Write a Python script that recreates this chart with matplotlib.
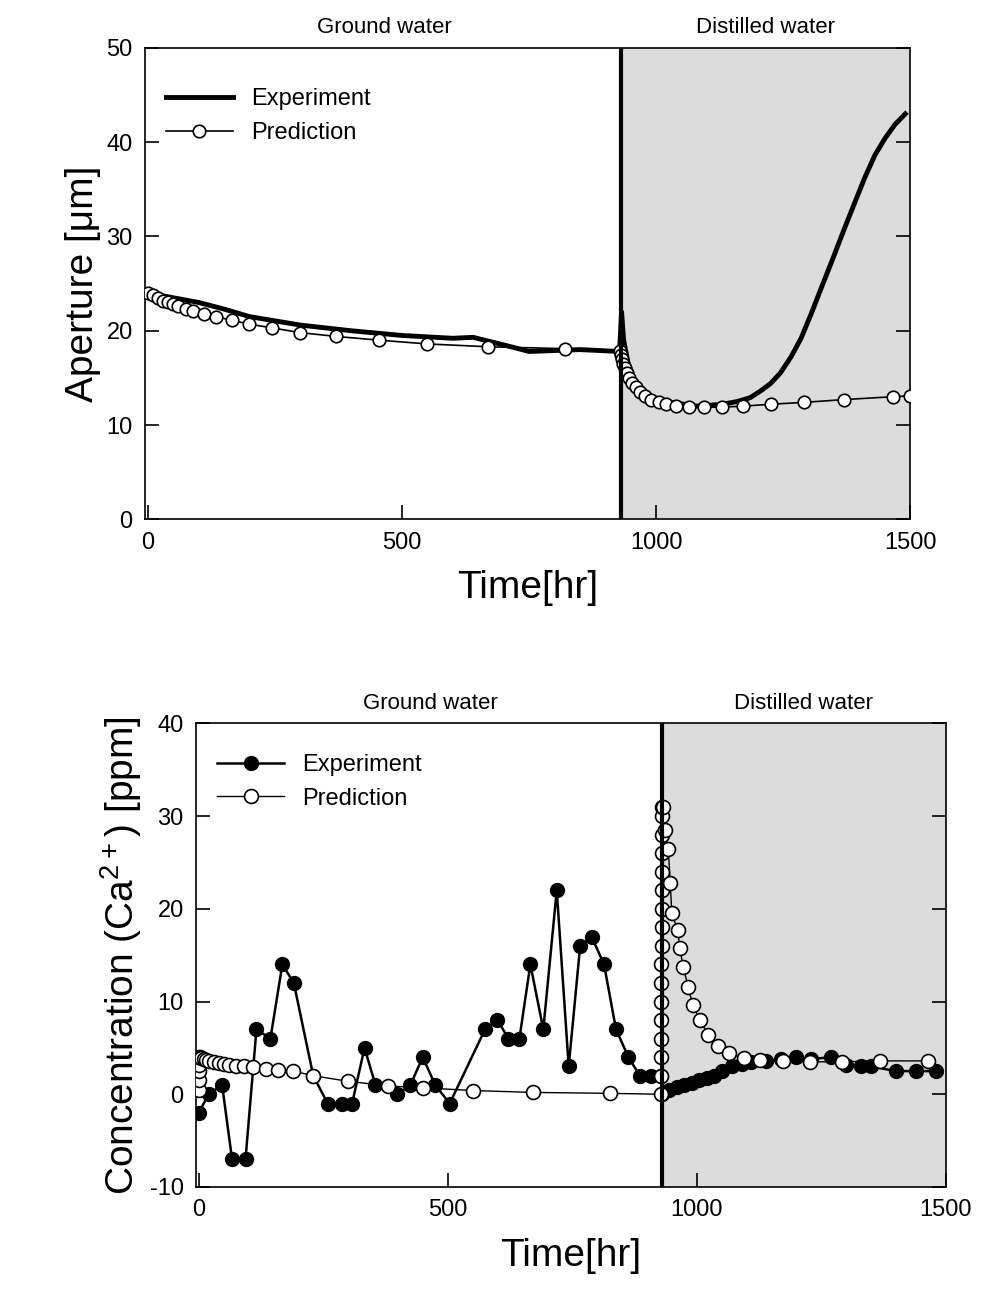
import matplotlib
matplotlib.use("Agg")
import matplotlib.pyplot as plt

plt.rcParams['font.family'] = ['Liberation Sans', 'DejaVu Sans']
plt.rcParams['mathtext.default'] = 'regular'
plt.rcParams['axes.unicode_minus'] = False

# top: aperture
ap_exp_t = [0, 50, 100, 150, 200, 300, 400, 500, 600, 640, 700, 750, 850, 928,
            932, 936, 945, 960, 990, 1030, 1080, 1130, 1160, 1185, 1205, 1225, 1244, 1265, 1285, 1305, 1323,
            1345, 1370, 1390, 1410, 1430, 1450, 1470, 1490]
ap_exp_v = [24, 23.5, 23, 22.3, 21.5, 20.6, 20.0, 19.5, 19.2, 19.3, 18.5, 17.8, 18.0, 17.8,
            22, 19, 16.5, 14.5, 13, 12.4, 12.0, 12.2, 12.5, 12.9, 13.6, 14.4, 15.5, 17.2, 19.2, 21.8, 24.3,
            27.3, 30.8, 33.5, 36.2, 38.6, 40.4, 41.9, 43]
ap_pre_t = [0, 10, 20, 30, 40, 50, 60, 75, 90, 110, 135, 165, 200, 245, 300, 370, 455, 550, 670, 820, 928,
            930, 932, 935, 938, 942, 947, 953, 960, 968, 978, 990, 1005, 1020, 1040, 1065, 1095, 1130,
            1170, 1225, 1290, 1370, 1465, 1500]
ap_pre_v = [24, 23.8, 23.5, 23.2, 23, 22.8, 22.6, 22.3, 22.1, 21.8, 21.5, 21.1, 20.7, 20.3, 19.8, 19.4, 19, 18.6, 18.3, 18.1, 17.8,
            17.4, 17, 16.5, 16, 15.5, 15, 14.5, 14, 13.5, 13.1, 12.7, 12.4, 12.2, 12.0, 11.9, 11.9, 11.9,
            12.0, 12.2, 12.4, 12.7, 13.0, 13.1]

# bottom: Ca concentration
ca_exp_t = [0, 20, 47, 67, 94, 116, 144, 168, 191, 230, 259, 288, 308, 333, 355, 399, 425, 450, 475, 504,
            575, 600, 622, 644, 666, 692, 719, 743, 766, 789, 814, 838, 863, 886, 909, 928,
            930, 945, 960, 975, 990, 1005, 1020, 1035, 1050, 1070, 1090, 1110, 1140, 1170, 1200, 1230,
            1270, 1300, 1330, 1350, 1400, 1440, 1480]
ca_exp_v = [-2, 0, 1, -7, -7, 7, 6, 14, 12, 2, -1, -1, -1, 5, 1, 0, 1, 4, 1, -1,
            7, 8, 6, 6, 14, 7, 22, 3, 16, 17, 14, 7, 4, 2, 2, 2,
            0, 0.5, 0.8, 1, 1.2, 1.5, 1.8, 2, 2.5, 3, 3.3, 3.5, 3.6, 3.8, 4, 3.8,
            4, 3.2, 3, 3, 2.5, 2.5, 2.5]
ca_pre_t = [0, 0, 0, 0, 0, 2, 5, 10, 15, 20, 30, 40, 50, 60, 75, 90, 110, 135, 160, 190, 230, 300, 380, 450, 551, 672, 825, 928,
            929, 929, 929, 929, 929, 929, 929, 930, 930, 930, 930, 930, 930, 931, 931, 931, 932,
            937, 943, 947, 950, 962, 966, 973, 983, 992, 1007, 1023, 1042, 1065, 1095, 1128, 1173, 1227, 1291, 1369, 1464]
ca_pre_v = [0.5, 1.5, 2.5, 3.2, 4, 4, 3.9, 3.8, 3.7, 3.6, 3.5, 3.4, 3.3, 3.2, 3.1, 3.0, 2.9, 2.7, 2.6, 2.5, 2.0, 1.4, 0.9, 0.7, 0.4, 0.2, 0.1, 0,
            2, 4, 6, 8, 10, 12, 14, 16, 18, 20, 22, 24, 26, 28, 30, 31, 31,
            28.5, 26.4, 22.8, 19.5, 17.7, 15.8, 13.7, 11.6, 9.6, 8, 6.4, 5.2, 4.4, 3.9, 3.7, 3.6, 3.5, 3.5, 3.6, 3.6]

switch = 930
fig = plt.figure(figsize=(9.81, 12.95), dpi=100)


def style(ax, ymin, ymax, yticks):
    ax.set_xlim(-5, 1500)
    ax.set_ylim(ymin, ymax)
    ax.axvspan(switch, 1500, color='#dcdcdc', zorder=0)
    ax.axvline(switch, color='black', lw=3, zorder=5)
    ax.set_xticks([0, 500, 1000, 1500])
    ax.set_yticks(yticks)
    ax.tick_params(direction='in', length=10, width=1.2, labelsize=17, right=True, pad=9)
    for s in ax.spines.values():
        s.set_linewidth(1.2)
    ax.set_xlabel('Time[hr]', fontsize=28, labelpad=12)
    ax.text(switch / 2, 1.02, 'Ground water', transform=ax.get_xaxis_transform(), ha='center', va='bottom', fontsize=16)
    ax.text((switch + 1500) / 2, 1.02, 'Distilled water', transform=ax.get_xaxis_transform(), ha='center', va='bottom', fontsize=16)


ax1 = fig.add_axes([0.148, 0.599, 0.78, 0.364])
style(ax1, 0, 50, [0, 10, 20, 30, 40, 50])
ax1.plot(ap_exp_t, ap_exp_v, color='black', lw=3.5, label='Experiment', zorder=3)
ax1.plot(ap_pre_t, ap_pre_v, color='black', lw=1.2, marker='o', ms=9, mfc='white', mec='black',
         mew=1.2, label='Prediction', zorder=4)
ax1.set_ylabel('Aperture [\u03bcm]', fontsize=28)
ax1.legend(loc='upper left', bbox_to_anchor=(0.0, 0.96), frameon=False, fontsize=17, handlelength=2.8)

ax2 = fig.add_axes([0.2, 0.0834, 0.764, 0.358])
style(ax2, -10, 40, [-10, 0, 10, 20, 30, 40])
ax2.plot(ca_exp_t, ca_exp_v, color='black', lw=1.8, marker='o', ms=10, mfc='black', label='Experiment', zorder=3)
ax2.plot(ca_pre_t, ca_pre_v, color='black', lw=1.0, marker='o', ms=10, mfc='white', mec='black',
         mew=1.2, label='Prediction', zorder=4)
ax2.set_ylabel('Concentration (Ca$^{2+}$) [ppm]', fontsize=28)
ax2.legend(loc='upper left', bbox_to_anchor=(0.0, 0.98), frameon=False, fontsize=17, handlelength=2.8)

fig.savefig('out.png', dpi=100)
